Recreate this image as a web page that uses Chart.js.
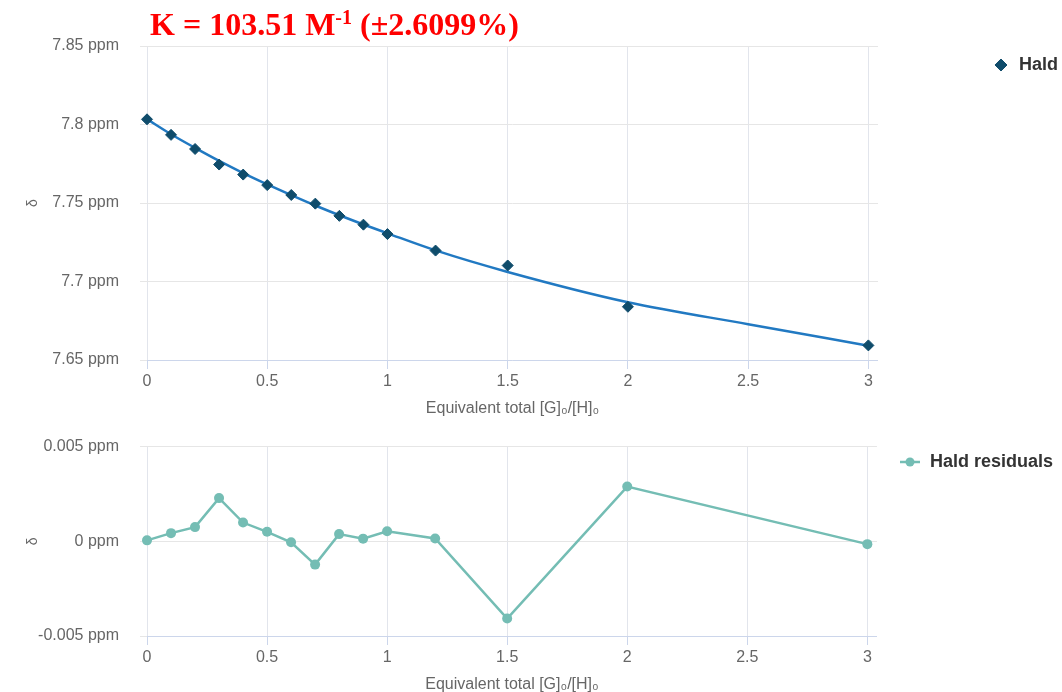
<!DOCTYPE html>
<html>
<head>
<meta charset="utf-8">
<script src="https://cdn.jsdelivr.net/npm/chart.js@4.4.1/dist/chart.umd.min.js"></script>
<style>
  body { margin: 0; background: #fff; overflow: hidden; }
  #wrap { position: relative; width: 1062px; height: 692px; }
  #fitChart { position: absolute; left: 0; top: 0; }
  #resChart { position: absolute; left: 0; top: 416px; }
  #kValue {
    position: absolute; left: 150px; top: 2px;
    font: bold 32px "Liberation Serif", "Times New Roman", serif;
    line-height: 44px; color: #ff0000; white-space: nowrap;
  }
  #kValue sup { font-size: 20px; line-height: 0; vertical-align: 11px; }
</style>
</head>
<body>
<div id="wrap">
  <canvas id="fitChart" width="1062" height="420"></canvas>
  <canvas id="resChart" width="1062" height="280"></canvas>
  <div id="kValue">K = 103.51 M<sup>-1</sup> (±2.6099%)</div>
</div>
<script>
// titration points: equivalents of guest added
const equivalents = [0, 0.1, 0.2, 0.3, 0.4, 0.5, 0.6, 0.7, 0.8, 0.9, 1.0, 1.2, 1.5, 2, 3];
// observed shift (ppm)
const observedShift = [7.8033, 7.7934, 7.7844, 7.7745, 7.7681, 7.7614, 7.7551, 7.7496,
  7.7418, 7.7362, 7.7302, 7.7197, 7.7102, 7.6839, 7.6593];
// fitted binding curve (ppm)
const fitX = [0, 0.1, 0.2, 0.3, 0.4, 0.5, 0.6, 0.7, 0.8, 0.9, 1.0, 1.2, 1.5, 2, 2.5, 3];
const fitShift = [7.8034, 7.7938, 7.7851, 7.7768, 7.7691, 7.7619, 7.7550, 7.7484,
  7.7422, 7.7363, 7.7307, 7.7198, 7.7061, 7.6868, 7.6728, 7.6591];
// residuals (ppm)
const residuals = [0.00005, 0.00043, 0.00075, 0.00228, 0.00099, 0.0005, -0.00005, -0.00123,
  0.00038, 0.00014, 0.00053, 0.00015, -0.00408, 0.00289, -0.00015];

const xTicks = [0, 0.5, 1, 1.5, 2, 2.5, 3];
const shiftTicks = [7.65, 7.7, 7.75, 7.8, 7.85];
const residualTicks = [-0.005, 0, 0.005];

const FONT = "'Liberation Sans', Arial, sans-serif";
const LABEL = '#666666';
const GRID = '#e6e6e6';
const AXIS_LINE = '#ccd6eb';
const NAVY = '#0f4c6b';
const BLUE = '#2179c2';
const TEAL = '#74bdb4';

const ppm = v => `${+v.toFixed(4)} ppm`;

function xAxis() {
  return {
    type: 'linear',
    min: 0,
    max: 3.04,
    afterBuildTicks: s => { s.ticks = xTicks.map(v => ({ value: v })); },
    afterFit: s => { s.height = 60; },
    grid: { color: '#e2e5ec', tickColor: AXIS_LINE, tickLength: 9 },
    border: { color: AXIS_LINE },
    ticks: {
      color: LABEL, font: { family: FONT, size: 16 }, padding: 3,
      maxRotation: 0, autoSkip: false, callback: v => String(v)
    },
    title: {
      display: true, text: 'Equivalent total [G]₀/[H]₀', color: LABEL,
      font: { family: FONT, size: 16 }, padding: { top: 0, bottom: 2 }
    }
  };
}

function yAxis(min, max, ticks) {
  return {
    type: 'linear',
    min, max,
    afterBuildTicks: s => { s.ticks = ticks.map(v => ({ value: v })); },
    afterFit: s => { s.width = 147; },
    grid: { color: GRID, tickColor: GRID, tickLength: 7 },
    border: { display: false },
    ticks: { color: LABEL, font: { family: FONT, size: 16 }, padding: 21, callback: ppm },
    title: {
      display: true, text: 'δ', color: LABEL,
      font: { family: FONT, size: 14 }, padding: { top: 25, bottom: 0 }
    }
  };
}

// empty axis on the right keeps both plot areas the same width
function spacer(w) {
  return {
    type: 'linear', position: 'right', display: true,
    grid: { display: false }, border: { display: false }, ticks: { display: false },
    afterFit: s => { s.width = w; }
  };
}

function legendLabels(extra) {
  return Object.assign({
    usePointStyle: true,
    padding: 10,
    color: '#333333',
    font: { family: FONT, size: 18, weight: 'bold' }
  }, extra);
}

new Chart(document.getElementById('fitChart'), {
  type: 'scatter',
  data: {
    datasets: [
      {
        label: 'Hald',
        data: equivalents.map((x, i) => ({ x, y: observedShift[i] })),
        yAxisID: 'y',
        showLine: false,
        pointStyle: 'rectRot',
        pointRadius: 5.5,
        backgroundColor: NAVY,
        borderColor: NAVY,
        borderWidth: 1,
        clip: false,
        order: 0
      },
      {
        label: 'fit',
        data: fitX.map((x, i) => ({ x, y: fitShift[i] })),
        yAxisID: 'y',
        showLine: true,
        borderColor: BLUE,
        borderWidth: 2.5,
        pointRadius: 0,
        cubicInterpolationMode: 'monotone',
        clip: false,
        order: 1
      }
    ]
  },
  options: {
    responsive: false,
    animation: false,
    devicePixelRatio: 1,
    layout: { padding: { top: 46, right: -6, bottom: 0, left: 0 } },
    scales: {
      x: xAxis(),
      y: yAxis(7.65, 7.85, shiftTicks),
      pad: spacer(104)
    },
    plugins: {
      tooltip: { enabled: false },
      legend: {
        position: 'right',
        align: 'start',
        labels: legendLabels({
          boxWidth: 18, boxHeight: 8.5,
          filter: item => item.datasetIndex === 0
        })
      }
    }
  }
});

// line-and-dot swatch for the residuals legend
const residualIcon = document.createElement('canvas');
residualIcon.width = 20;
residualIcon.height = 12;
(() => {
  const c = residualIcon.getContext('2d');
  c.strokeStyle = TEAL;
  c.fillStyle = TEAL;
  c.lineWidth = 2.5;
  c.beginPath();
  c.moveTo(0, 6);
  c.lineTo(20, 6);
  c.stroke();
  c.beginPath();
  c.arc(10, 6, 4.5, 0, Math.PI * 2);
  c.fill();
})();

new Chart(document.getElementById('resChart'), {
  type: 'scatter',
  data: {
    datasets: [
      {
        label: 'Hald residuals',
        data: equivalents.map((x, i) => ({ x, y: residuals[i] })),
        yAxisID: 'y',
        showLine: true,
        borderColor: TEAL,
        backgroundColor: TEAL,
        borderWidth: 2.5,
        pointRadius: 5,
        pointBorderWidth: 0,
        clip: false
      }
    ]
  },
  options: {
    responsive: false,
    animation: false,
    devicePixelRatio: 1,
    layout: { padding: { top: 27, right: -1, bottom: 0, left: 0 } },
    scales: {
      x: xAxis(),
      y: yAxis(-0.005, 0.005, residualTicks),
      pad: spacer(12)
    },
    plugins: {
      tooltip: { enabled: false },
      legend: {
        position: 'right',
        align: 'start',
        labels: legendLabels({
          pointStyleWidth: 22, boxHeight: 12,
          generateLabels: chart => Chart.defaults.plugins.legend.labels.generateLabels(chart)
            .map(item => Object.assign(item, { pointStyle: residualIcon }))
        })
      }
    }
  }
});
</script>
</body>
</html>
